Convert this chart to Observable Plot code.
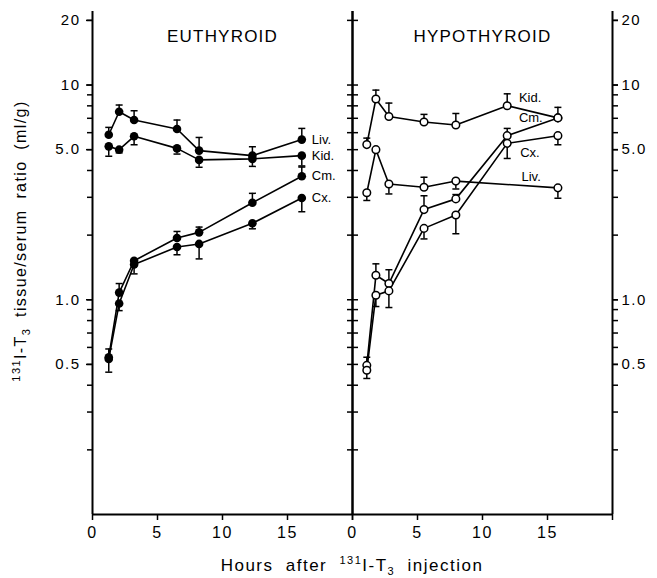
<!DOCTYPE html>
<html><head><meta charset="utf-8">
<script src="https://cdn.jsdelivr.net/npm/d3@7"></script>
<script src="https://cdn.jsdelivr.net/npm/@observablehq/plot@0.6"></script>
<style>body{margin:0;background:#fff;} #chart{width:657px;height:578px;}</style>
</head><body><div id="chart"></div>
<script>
const panels = ["EUTHYROID", "HYPOTHYROID"];
const hoursEu = [1.25, 2.05, 3.2, 6.5, 8.2, 12.3, 16.1];
const hoursHy = [1.1, 1.8, 2.8, 5.5, 7.95, 11.9, 15.8];

// Euthyroid (filled circles)
const euLiv = [5.87, 7.51, 6.87, 6.24, 4.95, 4.69, 5.57];
const euKid = [5.18, 5.0, 5.77, 5.07, 4.48, 4.53, 4.69];
const euCm  = [0.54, 1.08, 1.52, 1.94, 2.06, 2.83, 3.76];
const euCx  = [0.53, 0.96, 1.46, 1.76, 1.82, 2.27, 2.98];
const euLivHi = [6.35, 8.07, 7.59, 6.87, 5.7, 5.16, 6.28];
const euKidLo = [4.66, 4.83, 5.27, 4.77, 4.14, 4.18, 4.2];
const euCmHi  = [0.59, 1.19, null, 2.08, 2.18, 3.13, 4.15];
const euCxLo  = [0.46, 0.89, 1.32, 1.62, 1.55, 2.14, 2.57];

// Hypothyroid (open circles)
const hyKid = [5.28, 8.61, 7.14, 6.73, 6.51, 8.01, 7.03];
const hyLiv = [3.15, 5.0, 3.46, 3.34, 3.57, null, 3.32];
const hyCm  = [0.495, 1.30, 1.19, 2.63, 2.95, 5.81, 7.03];
const hyCx  = [0.47, 1.05, 1.10, 2.15, 2.48, 5.35, 5.81];
const hyKidHi = [5.66, 9.47, 8.24, 7.3, 7.37, 9.1, 7.87];
const hyLivHi = [null, null, null, 3.72, null, null, null];
const hyLivLo = [2.9, null, 3.11, null, 3.28, null, 2.97];
const hyCmHi  = [0.54, 1.47, 1.38, 3.05, 3.09, 6.28, null];
const hyCxLo  = [0.43, 0.93, 0.92, 1.92, 2.03, 4.55, 5.27];

// Hypothyroid curve labels
const hyLabels = ["Kid.", "Cm.", "Cx.", "Liv."];
const hyLabelHour = [12.8, 12.8, 12.9, 13.0];
const hyLabelValue = [8.73, 7.04, 4.84, 3.74];

// Axis ticks
const majorTicks = [0.5, 1, 5, 10, 20];
const majorLabels = ["0.5", "1.0", "5.0", "10", "20"];
const minorTicks = [0.2, 0.3, 0.4, 0.5, 0.6, 0.7, 0.8, 0.9, 1, 2, 3, 4, 5, 6, 7, 8, 9, 10, 20];
const xTicks = [0, 5, 10, 15, 20];

const series = [
  {panel: panels[0], organ: "Liv.", hours: hoursEu, v: euLiv, hi: euLivHi, lo: null},
  {panel: panels[0], organ: "Kid.", hours: hoursEu, v: euKid, hi: null, lo: euKidLo},
  {panel: panels[0], organ: "Cm.", hours: hoursEu, v: euCm, hi: euCmHi, lo: null},
  {panel: panels[0], organ: "Cx.", hours: hoursEu, v: euCx, hi: null, lo: euCxLo},
  {panel: panels[1], organ: "Kid.", hours: hoursHy, v: hyKid, hi: hyKidHi, lo: null},
  {panel: panels[1], organ: "Liv.", hours: hoursHy, v: hyLiv, hi: hyLivHi, lo: hyLivLo},
  {panel: panels[1], organ: "Cm.", hours: hoursHy, v: hyCm, hi: hyCmHi, lo: null},
  {panel: panels[1], organ: "Cx.", hours: hoursHy, v: hyCx, hi: null, lo: hyCxLo}
];

const rows = [];
const errs = [];
for (const s of series) {
  s.v.forEach((v, i) => {
    if (v == null) return;
    const r = {panel: s.panel, organ: s.organ, h: s.hours[i], v, last: i === s.v.length - 1};
    rows.push(r);
    if (s.hi && s.hi[i] != null) errs.push({panel: s.panel, h: s.hours[i], y1: v, y2: s.hi[i]});
    if (s.lo && s.lo[i] != null) errs.push({panel: s.panel, h: s.hours[i], y1: v, y2: s.lo[i]});
  });
}
const hyLabelRows = hyLabels.map((t, i) => ({panel: panels[1], text: t, h: hyLabelHour[i], v: hyLabelValue[i]}));

const capSymbol = {draw(ctx, size) { const r = Math.sqrt(size / Math.PI); ctx.moveTo(-r, 0); ctx.lineTo(r, 0); }};
const fmtMajor = d => majorLabels[majorTicks.indexOf(d)];
const blank = () => "";

const chart = Plot.plot({
  width: 657, height: 578,
  marginLeft: 92, marginRight: 45, marginTop: 11, marginBottom: 64,
  style: {fontFamily: "'Liberation Sans', Arial, sans-serif", color: "black", background: "white", overflow: "visible"},
  fx: {domain: panels, padding: 0, axis: null},
  x: {domain: [0, 20]},
  y: {type: "log", domain: [0.1, 22]},
  marks: [
    Plot.axisY({anchor: "left", facetAnchor: "left", ticks: minorTicks, tickFormat: blank, tickSize: 5, strokeWidth: 1.5, label: null}),
    Plot.axisY({anchor: "left", facetAnchor: "left", ticks: majorTicks, tickFormat: fmtMajor, tickSize: 6, tickPadding: 6, fontSize: 15, strokeWidth: 1.5, label: null}),
    Plot.axisY({anchor: "right", facetAnchor: "left", ticks: minorTicks, tickFormat: blank, tickSize: 5, strokeWidth: 1.5, label: null}),
    Plot.axisY({anchor: "left", facetAnchor: "right", ticks: minorTicks, tickFormat: blank, tickSize: 5, strokeWidth: 1.5, label: null}),
    Plot.axisY({anchor: "right", facetAnchor: "right", ticks: minorTicks, tickFormat: blank, tickSize: 5, strokeWidth: 1.5, label: null}),
    Plot.axisY({anchor: "right", facetAnchor: "right", ticks: majorTicks, tickFormat: fmtMajor, tickSize: 5, tickPadding: 4, fontSize: 15, strokeWidth: 1.5, label: null}),
    Plot.axisX({ticks: xTicks, tickFormat: d => d === 20 ? "" : String(d), tickSize: 6, tickPadding: 6, fontSize: 16, strokeWidth: 1.5, label: null}),
    Plot.ruleX([0, 20], {strokeWidth: 2}),
    Plot.ruleY([0.1], {strokeWidth: 2}),
    Plot.line(rows, {fx: "panel", x: "h", y: "v", z: d => d.panel + d.organ, stroke: "black", strokeWidth: 1.6}),
    Plot.ruleX(errs, {fx: "panel", x: "h", y1: "y1", y2: "y2", strokeWidth: 1.5}),
    Plot.dot(errs, {fx: "panel", x: "h", y: "y2", symbol: capSymbol, r: 3.5, stroke: "black", strokeWidth: 1.5}),
    Plot.dot(rows.filter(d => d.panel === panels[0]), {fx: "panel", x: "h", y: "v", r: 4.3, fill: "black"}),
    Plot.dot(rows.filter(d => d.panel === panels[1]), {fx: "panel", x: "h", y: "v", r: 3.8, fill: "white", stroke: "black", strokeWidth: 1.5}),
    Plot.text(rows.filter(d => d.panel === panels[0] && d.last), {fx: "panel", x: "h", y: "v", text: "organ", dx: 10, textAnchor: "start", fontSize: 13}),
    Plot.text(hyLabelRows, {fx: "panel", x: "h", y: "v", text: "text", textAnchor: "start", fontSize: 13}),
    Plot.text(panels, {fx: d => d, text: d => d, frameAnchor: "top", dy: 18, fontSize: 17})
  ]
});
document.getElementById("chart").appendChild(chart);

const svg = d3.select(chart);
svg.selectAll("text").filter(function() { return panels.includes(this.textContent); }).attr("letter-spacing", 1.2);
svg.selectAll("g[aria-label='y-axis tick label'] text, g[aria-label='x-axis tick label'] text").attr("letter-spacing", 1.5);

// Y axis title
const yl = svg.append("text")
  .attr("transform", "translate(26,241) rotate(-90)")
  .attr("text-anchor", "middle")
  .attr("font-size", 16)
  .attr("letter-spacing", 1.4)
  .attr("word-spacing", 5)
  .attr("fill", "black");
yl.append("tspan").attr("font-size", 11).attr("dy", -6).text("131");
yl.append("tspan").attr("dy", 6).text("I-T");
yl.append("tspan").attr("font-size", 11).attr("dy", 4).text("3");
yl.append("tspan").attr("dy", -4).text(" tissue/serum ratio (ml/g)");

// X axis title
const xl = svg.append("text")
  .attr("x", 352).attr("y", 571)
  .attr("text-anchor", "middle")
  .attr("font-size", 17)
  .attr("letter-spacing", 1.5)
  .attr("word-spacing", 6)
  .attr("fill", "black");
xl.append("tspan").text("Hours after ");
xl.append("tspan").attr("font-size", 11).attr("dy", -7).text("131");
xl.append("tspan").attr("dy", 7).text("I-T");
xl.append("tspan").attr("font-size", 11).attr("dy", 4).text("3");
xl.append("tspan").attr("dy", -4).text(" injection");
</script>
</body></html>
